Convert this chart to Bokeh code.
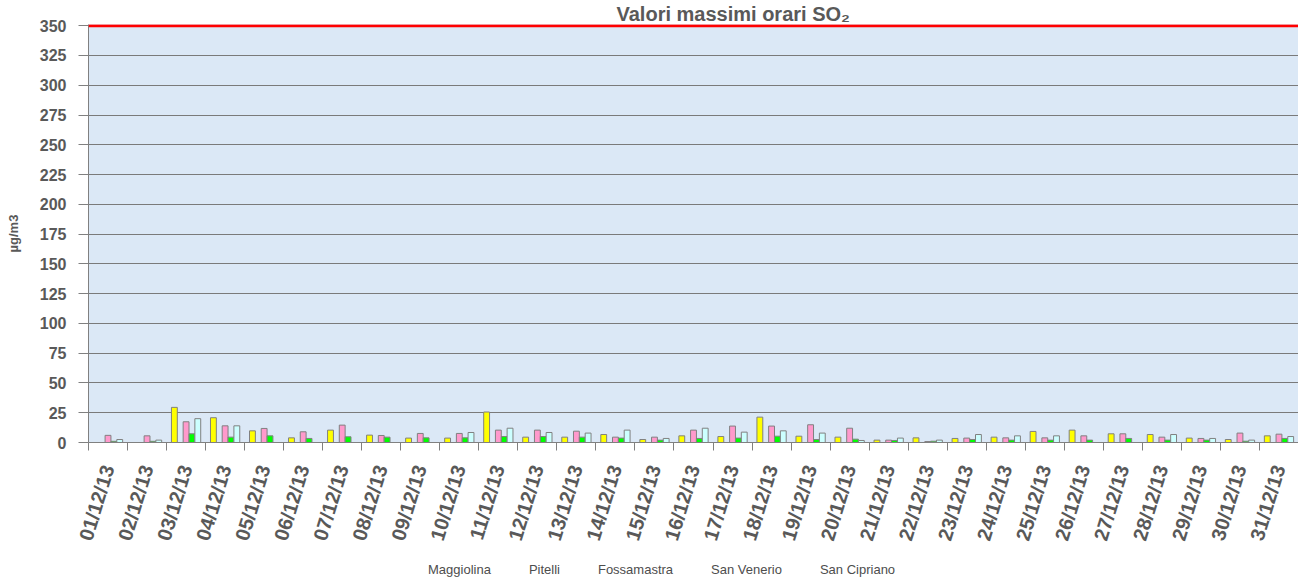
import math
from bokeh.plotting import figure
from bokeh.layouts import column
from bokeh.models import Range1d, FixedTicker, Span, Legend, LegendItem, ColumnDataSource
from bokeh.embed import file_html
from bokeh.resources import INLINE

NA = float("nan")

DATES = ["01/12/13", "02/12/13", "03/12/13", "04/12/13", "05/12/13", "06/12/13", "07/12/13",
         "08/12/13", "09/12/13", "10/12/13", "11/12/13", "12/12/13", "13/12/13", "14/12/13",
         "15/12/13", "16/12/13", "17/12/13", "18/12/13", "19/12/13", "20/12/13", "21/12/13",
         "22/12/13", "23/12/13", "24/12/13", "25/12/13", "26/12/13", "27/12/13", "28/12/13",
         "29/12/13", "30/12/13", "31/12/13"]

MAGGIOLINA = [0, 0, 29.5, 20.8, 9.8, 3.9, 10.4, 6.2, 3.7, 3.7, 25.6, 4.5, 4.5, 6.7, 2.5, 5.6,
              5.0, 21.3, 5.3, 4.5, 2.0, 3.9, 3.4, 4.5, 9.3, 10.4, 7.3, 6.7, 3.7, 2.5, 5.6]
PITELLI = [NA, NA, NA, NA, NA, NA, NA, NA, NA, NA, NA, NA, NA, NA, NA, NA,
           NA, NA, NA, NA, NA, NA, NA, NA, NA, NA, NA, NA, NA, NA, NA]
FOSSAMASTRA = [6.0, 5.6, 17.4, 14.0, 11.8, 9.0, 14.6, 5.9, 7.6, 7.6, 10.4, 10.4, 9.5, 4.5, 4.5, 10.4,
               13.8, 13.8, 14.9, 12.0, 2.0, 0.8, 3.7, 3.9, 3.9, 5.6, 7.3, 4.5, 3.4, 7.9, 7.0]
SAN_VENERIO = [1.0, 1.0, 7.3, 4.5, 5.6, 3.4, 4.8, 4.5, 3.9, 3.9, 5.0, 5.0, 4.5, 3.7, 2.0, 3.4,
               3.7, 5.3, 2.5, 2.8, 1.7, 1.1, 2.5, 2.0, 2.0, 2.0, 3.4, 2.0, 2.0, 1.1, 3.4]
SAN_CIPRIANO = [2.5, 2.0, 20.0, 14.0, NA, NA, NA, NA, NA, 8.4, 12.0, 8.4, 7.9, 10.4, 3.4, 12.0,
                8.7, 9.8, 7.9, 1.7, 3.7, 2.0, 6.7, 5.6, 5.6, NA, NA, 6.7, 3.4, 2.0, 5.0]

SERIES = ["Maggiolina", "Pitelli", "Fossamastra", "San Venerio", "San Cipriano"]
VALUES = [MAGGIOLINA, PITELLI, FOSSAMASTRA, SAN_VENERIO, SAN_CIPRIANO]
COLORS = ["#FFFF00", "#0000FF", "#FF99CC", "#00FF00", "#CCFFFF"]

LIMIT = 350
Y_TICKS = [0, 25, 50, 75, 100, 125, 150, 175, 200, 225, 250, 275, 300, 325, 350]
Y_LABEL = "µg/m3"
TITLE = "Valori massimi orari SO₂"

FONT = "Liberation Sans"
TXT = "#595959"
GRAY = "#808080"

n = len(DATES)
idx = list(range(n))

# ---------------- main chart ----------------
p = figure(width=1298, height=560, output_backend="svg", toolbar_location=None,
           x_range=Range1d(-0.5, n - 0.5), y_range=Range1d(0, 351),
           min_border_left=88, min_border_right=0, min_border_top=24, min_border_bottom=118)
p.background_fill_color = "#dbe8f6"
p.border_fill_color = "white"
p.outline_line_color = None

p.title.text = TITLE
p.title.align = "left"
p.title.offset = 528
p.title.standoff = 0
p.title.text_font = FONT
p.title.text_font_style = "bold"
p.title.text_font_size = "20px"
p.title.text_color = TXT

slot = 0.75 / len(SERIES)
for k, (name, vals, col) in enumerate(zip(SERIES, VALUES, COLORS)):
    off = (k - (len(SERIES) - 1) / 2) * slot
    src = ColumnDataSource(dict(x=[i + off for i in idx], top=vals))
    p.vbar(x="x", top="top", bottom=0, width=slot, source=src,
           fill_color=col, line_color=GRAY, line_width=1)

p.add_layout(Span(location=LIMIT, dimension="width", line_color="#FF0000", line_width=3))

p.xgrid.grid_line_color = None
p.ygrid.ticker = FixedTicker(ticks=Y_TICKS)
p.ygrid.grid_line_color = "#7a7a7a"
p.ygrid.grid_line_width = 1.2

p.yaxis.ticker = FixedTicker(ticks=Y_TICKS)
p.yaxis.axis_line_color = GRAY
p.yaxis.major_tick_line_color = GRAY
p.yaxis.major_tick_out = 10
p.yaxis.major_tick_in = 0
p.yaxis.minor_tick_line_color = None
p.yaxis.major_label_standoff = 12
p.yaxis.major_label_text_font = FONT
p.yaxis.major_label_text_font_style = "bold"
p.yaxis.major_label_text_font_size = "16px"
p.yaxis.major_label_text_color = TXT
p.yaxis.axis_label = Y_LABEL
p.yaxis.axis_label_standoff = 16
p.yaxis.axis_label_text_font = FONT
p.yaxis.axis_label_text_font_style = "bold"
p.yaxis.axis_label_text_font_size = "13px"
p.yaxis.axis_label_text_color = TXT

p.xaxis.ticker = FixedTicker(ticks=idx, minor_ticks=[i - 0.5 for i in range(n + 1)])
p.xaxis.major_label_overrides = {i: d for i, d in enumerate(DATES)}
p.xaxis.axis_line_color = GRAY
p.xaxis.major_tick_line_color = None
p.xaxis.major_tick_out = 0
p.xaxis.major_tick_in = 0
p.xaxis.minor_tick_line_color = GRAY
p.xaxis.minor_tick_out = 8
p.xaxis.minor_tick_in = 0
p.xaxis.major_label_orientation = math.radians(73)
p.xaxis.major_label_standoff = 15
p.xaxis.major_label_text_font = FONT
p.xaxis.major_label_text_font_style = "bold"
p.xaxis.major_label_text_font_size = "20px"
p.xaxis.major_label_text_color = TXT

# ---------------- legend strip ----------------
leg = figure(width=1298, height=20, output_backend="svg", toolbar_location=None,
             x_range=Range1d(0, 1), y_range=Range1d(0, 1),
             x_axis_type=None, y_axis_type=None,
             min_border_left=0, min_border_right=0, min_border_top=0, min_border_bottom=0)
leg.outline_line_color = None
leg.background_fill_color = "white"
leg.border_fill_color = "white"

swatches = []
for name, col in zip(SERIES, COLORS):
    r = leg.vbar(x=[], top=[], bottom=0, width=0.1, fill_color=col, line_color=GRAY, line_width=1)
    swatches.append(r)

legend = Legend(items=[LegendItem(label=s, renderers=[r]) for s, r in zip(SERIES, swatches)],
                orientation="horizontal", location=(327, 3),
                glyph_width=9, glyph_height=9, label_height=12, label_standoff=4, spacing=25,
                padding=0, margin=0, border_line_color=None, background_fill_alpha=0,
                label_text_font=FONT, label_text_font_size="13px", label_text_color="#4d4d4d")
leg.add_layout(legend)

layout = column(p, leg, spacing=0)
open("out.html", "w").write(file_html(layout, INLINE))
